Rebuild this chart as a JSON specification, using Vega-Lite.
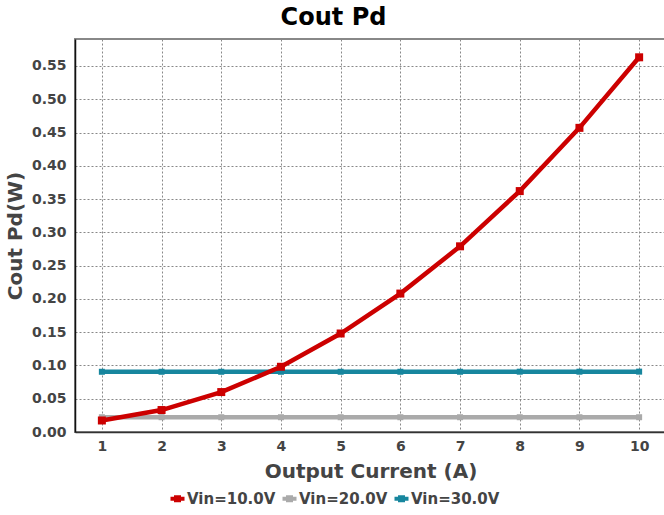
{
  "$schema": "https://vega.github.io/schema/vega-lite/v6.json",
  "width": 591,
  "height": 393,
  "autosize": "none",
  "padding": {"left": 75, "top": 39, "right": 0, "bottom": 83},
  "background": "white",
  "title": {"text": "Cout Pd", "font": "DejaVu Sans", "fontSize": 24, "fontWeight": "bold", "color": "black", "anchor": "middle", "dx": -37, "offset": 9},
  "config": {
    "view": {"stroke": "#888888", "strokeWidth": 2},
    "font": "DejaVu Sans"
  },
  "data": {"values": [
    {"I": 1, "P": 0.0905, "s": "Vin=30.0V"},
    {"I": 2, "P": 0.0905, "s": "Vin=30.0V"},
    {"I": 3, "P": 0.0905, "s": "Vin=30.0V"},
    {"I": 4, "P": 0.0905, "s": "Vin=30.0V"},
    {"I": 5, "P": 0.0905, "s": "Vin=30.0V"},
    {"I": 6, "P": 0.0905, "s": "Vin=30.0V"},
    {"I": 7, "P": 0.0905, "s": "Vin=30.0V"},
    {"I": 8, "P": 0.0906, "s": "Vin=30.0V"},
    {"I": 9, "P": 0.0906, "s": "Vin=30.0V"},
    {"I": 10, "P": 0.0907, "s": "Vin=30.0V"},
    {"I": 1, "P": 0.0222, "s": "Vin=20.0V"},
    {"I": 2, "P": 0.0222, "s": "Vin=20.0V"},
    {"I": 3, "P": 0.0222, "s": "Vin=20.0V"},
    {"I": 4, "P": 0.0222, "s": "Vin=20.0V"},
    {"I": 5, "P": 0.0222, "s": "Vin=20.0V"},
    {"I": 6, "P": 0.0222, "s": "Vin=20.0V"},
    {"I": 7, "P": 0.0222, "s": "Vin=20.0V"},
    {"I": 8, "P": 0.0222, "s": "Vin=20.0V"},
    {"I": 9, "P": 0.0222, "s": "Vin=20.0V"},
    {"I": 10, "P": 0.0222, "s": "Vin=20.0V"},
    {"I": 1, "P": 0.0173, "s": "Vin=10.0V"},
    {"I": 2, "P": 0.0330, "s": "Vin=10.0V"},
    {"I": 3, "P": 0.0600, "s": "Vin=10.0V"},
    {"I": 4, "P": 0.0980, "s": "Vin=10.0V"},
    {"I": 5, "P": 0.1480, "s": "Vin=10.0V"},
    {"I": 6, "P": 0.2080, "s": "Vin=10.0V"},
    {"I": 7, "P": 0.2790, "s": "Vin=10.0V"},
    {"I": 8, "P": 0.3620, "s": "Vin=10.0V"},
    {"I": 9, "P": 0.4570, "s": "Vin=10.0V"},
    {"I": 10, "P": 0.5630, "s": "Vin=10.0V"}
  ]},
  "encoding": {
    "x": {"field": "I", "type": "quantitative",
      "scale": {"domain": [0.55, 10.45], "nice": false, "zero": false},
      "axis": {"title": "Output Current (A)", "values": [1,2,3,4,5,6,7,8,9,10], "format": "d",
        "labelFont": "DejaVu Sans", "labelFontSize": 14, "labelFontWeight": "bold", "labelColor": "#444444", "labelPadding": 7,
        "titleFont": "DejaVu Sans", "titleFontSize": 20, "titleFontWeight": "bold", "titleColor": "#444444", "titlePadding": 8,
        "ticks": false, "domainColor": "#333333", "domainWidth": 1.5,
        "grid": true, "gridColor": "#888888", "gridDash": [2, 2], "gridWidth": 1}},
    "y": {"field": "P", "type": "quantitative",
      "scale": {"domain": [0, 0.5905], "nice": false},
      "axis": {"title": "Cout Pd(W)", "values": [0,0.05,0.1,0.15,0.2,0.25,0.3,0.35,0.4,0.45,0.5,0.55], "format": ".2f",
        "labelFont": "DejaVu Sans", "labelFontSize": 14, "labelFontWeight": "bold", "labelColor": "#444444", "labelPadding": 9,
        "titleFont": "DejaVu Sans", "titleFontSize": 20, "titleFontWeight": "bold", "titleColor": "#444444", "titlePadding": 6,
        "ticks": false, "domainColor": "#111111", "domainWidth": 1.5,
        "grid": true, "gridColor": "#888888", "gridDash": [2, 2], "gridWidth": 1}},
    "color": {"field": "s", "type": "nominal",
      "scale": {"domain": ["Vin=10.0V", "Vin=20.0V", "Vin=30.0V"], "range": ["#cc0000", "#aaaaaa", "#17869e"]},
      "legend": {"title": null, "orient": "none", "direction": "horizontal", "legendX": 95, "legendY": 452,
        "symbolType": "M-1,-0.28L1,-0.28L1,0.28L-1,0.28Z M-0.5,-0.5L0.5,-0.5L0.5,0.5L-0.5,0.5Z",
        "symbolSize": 196, "symbolStrokeWidth": 0, "symbolOpacity": 1,
        "labelFont": "DejaVu Sans", "labelFontSize": 15, "labelFontWeight": "bold", "labelColor": "#444444",
        "labelOffset": 2, "columnPadding": 6, "padding": 0}}
  },
  "layer": [
    {"mark": {"type": "line", "strokeWidth": 4.5}},
    {"transform": [{"filter": "datum.s !== 'Vin=10.0V'"}],
     "mark": {"type": "point", "shape": "square", "filled": true, "opacity": 1, "size": 36}},
    {"transform": [{"filter": "datum.s === 'Vin=10.0V'"}],
     "mark": {"type": "point", "shape": "square", "filled": true, "opacity": 1, "size": 64}}
  ]
}
